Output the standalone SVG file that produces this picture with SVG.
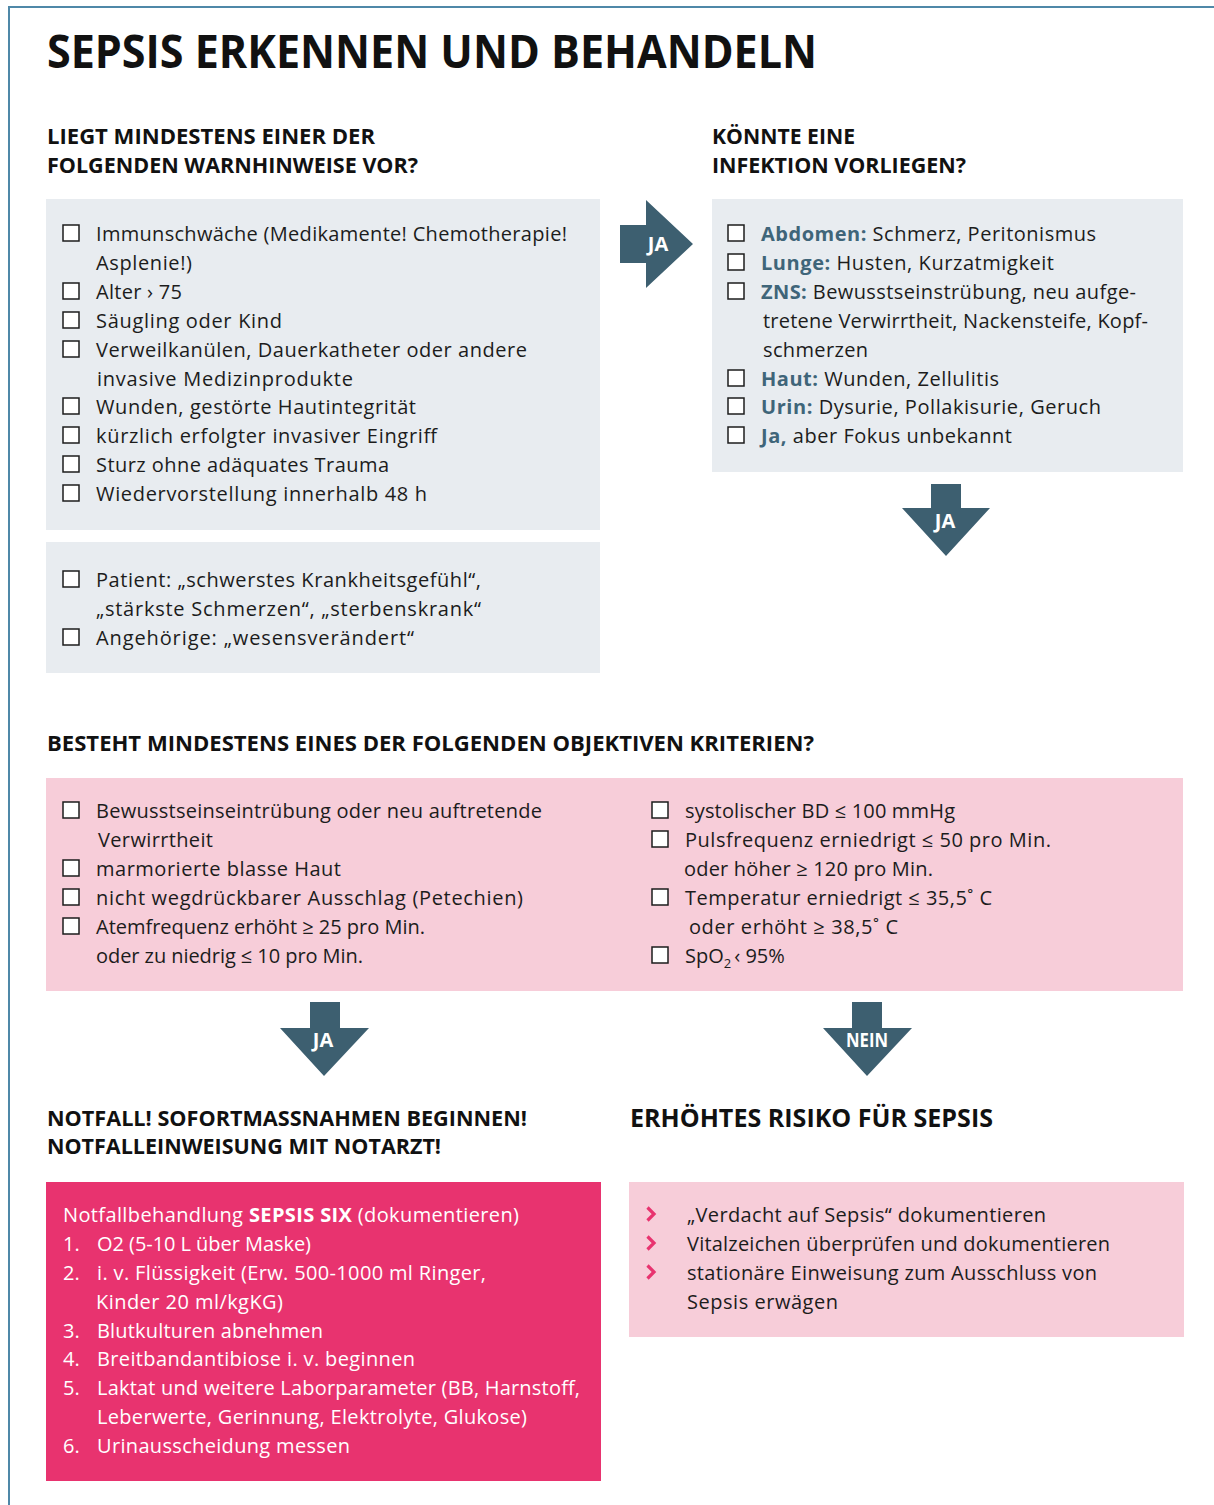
<svg xmlns="http://www.w3.org/2000/svg" width="1214" height="1505" viewBox="0 0 1214 1505">
<style>
  text { font-family: "Open Sans", "Noto Sans", "DejaVu Sans", sans-serif; }
  .t { font-size: 20px; fill: #1c1c1c; }
  .w { font-size: 20px; fill: #ffffff; }
  .h { font-size: 21px; font-weight: 700; fill: #111111; }
  .h2 { font-size: 25px; font-weight: 700; fill: #111111; }
  .title { font-size: 47px; font-weight: 700; fill: #111111; }
  .lbl { font-weight: 700; fill: #3f6579; }
  .b { font-weight: 700; }
  .cb { fill: #ffffff; stroke: #1c1c1c; stroke-width: 1.5; }
  .gray { fill: #e8ecf0; }
  .pink { fill: #f7cdd9; }
  .mag { fill: #e8336f; }
  .arrow { fill: #3d5f70; }
  .atext { font-size: 20px; font-weight: 700; fill: #ffffff; text-anchor: middle; }
  .chev { fill: none; stroke: #e8336f; stroke-width: 3.2; stroke-linejoin: miter; }
</style>
<defs>
  <rect id="cbox" class="cb" x="0" y="0" width="16" height="16"/>
</defs>
<rect x="0" y="0" width="1214" height="1505" fill="#ffffff"/>
<!-- frame -->
<g id="frame">
  <line x1="9" y1="7" x2="1214" y2="7" stroke="#4f88a8" stroke-width="2"/>
  <line x1="9" y1="6" x2="9" y2="1505" stroke="#4f88a8" stroke-width="2"/>
</g>
<g id="title">
  <text class="title" x="47" y="68" textLength="770" lengthAdjust="spacingAndGlyphs">SEPSIS ERKENNEN UND BEHANDELN</text>
</g>

<g id="headings">
  <text class="h" x="47" y="144" textLength="328" lengthAdjust="spacingAndGlyphs">LIEGT MINDESTENS EINER DER</text>
  <text class="h" x="47" y="173" textLength="371" lengthAdjust="spacingAndGlyphs">FOLGENDEN WARNHINWEISE VOR?</text>
  <text class="h" x="712" y="144" textLength="143" lengthAdjust="spacingAndGlyphs">KÖNNTE EINE</text>
  <text class="h" x="712" y="173" textLength="254" lengthAdjust="spacingAndGlyphs">INFEKTION VORLIEGEN?</text>
  <text class="h" x="47" y="751" textLength="767" lengthAdjust="spacingAndGlyphs">BESTEHT MINDESTENS EINES DER FOLGENDEN OBJEKTIVEN KRITERIEN?</text>
  <text class="h" x="47" y="1126" textLength="480" lengthAdjust="spacingAndGlyphs">NOTFALL! SOFORTMASSNAHMEN BEGINNEN!</text>
  <text class="h" x="47" y="1154" textLength="394" lengthAdjust="spacingAndGlyphs">NOTFALLEINWEISUNG MIT NOTARZT!</text>
  <text class="h2" x="630" y="1127" textLength="363" lengthAdjust="spacingAndGlyphs">ERHÖHTES RISIKO FÜR SEPSIS</text>
</g>

<!-- Warning signs -->
<g id="warnhinweise">
  <rect class="gray" x="46" y="199" width="554" height="331"/>
  <use href="#cbox" x="63" y="225"/>
  <use href="#cbox" x="63" y="283"/>
  <use href="#cbox" x="63" y="312"/>
  <use href="#cbox" x="63" y="341"/>
  <use href="#cbox" x="63" y="398"/>
  <use href="#cbox" x="63" y="427"/>
  <use href="#cbox" x="63" y="456"/>
  <use href="#cbox" x="63" y="485"/>
  <text class="t" x="96" y="241" textLength="471">Immunschwäche (Medikamente! Chemotherapie!</text>
  <text class="t" x="96" y="270" textLength="96">Asplenie!)</text>
  <text class="t" x="96" y="299" textLength="86">Alter › 75</text>
  <text class="t" x="96" y="328" textLength="186">Säugling oder Kind</text>
  <text class="t" x="96" y="357" textLength="431">Verweilkanülen, Dauerkatheter oder andere</text>
  <text class="t" x="97" y="386" textLength="256">invasive Medizinprodukte</text>
  <text class="t" x="96" y="414" textLength="320">Wunden, gestörte Hautintegrität</text>
  <text class="t" x="96" y="443" textLength="341">kürzlich erfolgter invasiver Eingriff</text>
  <text class="t" x="96" y="472" textLength="293">Sturz ohne adäquates Trauma</text>
  <text class="t" x="96" y="501" textLength="331">Wiedervorstellung innerhalb 48 h</text>
</g>

<g id="gefuehl">
  <rect class="gray" x="46" y="542" width="554" height="131"/>
  <use href="#cbox" x="63" y="571"/>
  <use href="#cbox" x="63" y="629"/>
  <text class="t" x="96" y="587" textLength="385">Patient: „schwerstes Krankheitsgefühl“,</text>
  <text class="t" x="96" y="616" textLength="385">„stärkste Schmerzen“, „sterbenskrank“</text>
  <text class="t" x="96" y="645" textLength="318">Angehörige: „wesensverändert“</text>
</g>

<g id="infektion">
  <rect class="gray" x="712" y="199" width="471" height="273"/>
  <use href="#cbox" x="728" y="225"/>
  <use href="#cbox" x="728" y="254"/>
  <use href="#cbox" x="728" y="283"/>
  <use href="#cbox" x="728" y="370"/>
  <use href="#cbox" x="728" y="398"/>
  <use href="#cbox" x="728" y="427"/>
  <text class="t" x="761" y="241" textLength="335"><tspan class="lbl">Abdomen:</tspan> Schmerz, Peritonismus</text>
  <text class="t" x="761" y="270" textLength="293"><tspan class="lbl">Lunge:</tspan> Husten, Kurzatmigkeit</text>
  <text class="t" x="761" y="299" textLength="375"><tspan class="lbl">ZNS:</tspan> Bewusstseinstrübung, neu aufge-</text>
  <text class="t" x="763" y="328" textLength="385">tretene Verwirrtheit, Nackensteife, Kopf-</text>
  <text class="t" x="763" y="357" textLength="105">schmerzen</text>
  <text class="t" x="761" y="386" textLength="238"><tspan class="lbl">Haut:</tspan> Wunden, Zellulitis</text>
  <text class="t" x="761" y="414" textLength="340"><tspan class="lbl">Urin:</tspan> Dysurie, Pollakisurie, Geruch</text>
  <text class="t" x="761" y="443" textLength="251"><tspan class="lbl">Ja,</tspan> aber Fokus unbekannt</text>
</g>

<g id="kriterien">
  <rect class="pink" x="46" y="778" width="1137" height="213"/>
  <use href="#cbox" x="63" y="802"/>
  <use href="#cbox" x="63" y="860"/>
  <use href="#cbox" x="63" y="889"/>
  <use href="#cbox" x="63" y="918"/>
  <text class="t" x="96" y="818" textLength="446">Bewusstseinseintrübung oder neu auftretende</text>
  <text class="t" x="98" y="847" textLength="115">Verwirrtheit</text>
  <text class="t" x="96" y="876" textLength="245">marmorierte blasse Haut</text>
  <text class="t" x="96" y="905" textLength="427">nicht wegdrückbarer Ausschlag (Petechien)</text>
  <text class="t" x="96" y="934" textLength="329">Atemfrequenz erhöht ≥ 25 pro Min.</text>
  <text class="t" x="96" y="963" textLength="267">oder zu niedrig ≤ 10 pro Min.</text>
  <use href="#cbox" x="652" y="802"/>
  <use href="#cbox" x="652" y="831"/>
  <use href="#cbox" x="652" y="889"/>
  <use href="#cbox" x="652" y="947"/>
  <text class="t" x="685" y="818" textLength="270">systolischer BD ≤ 100 mmHg</text>
  <text class="t" x="685" y="847" textLength="366">Pulsfrequenz erniedrigt ≤ 50 pro Min.</text>
  <text class="t" x="684" y="876" textLength="249">oder höher ≥ 120 pro Min.</text>
  <text class="t" x="685" y="905" textLength="307">Temperatur erniedrigt ≤ 35,5˚ C</text>
  <text class="t" x="689" y="934" textLength="209">oder erhöht ≥ 38,5˚ C</text>
  <text class="t" x="685" y="963">SpO<tspan font-size="13" dy="5">2</tspan><tspan dy="-5" dx="3">‹ 95%</tspan></text>
</g>

<g id="notfall">
  <rect class="mag" x="46" y="1182" width="555" height="299"/>
  <text class="w" x="63" y="1222" textLength="456">Notfallbehandlung <tspan class="b">SEPSIS SIX</tspan> (dokumentieren)</text>
  <text class="w" x="63" y="1251">1.</text>
  <text class="w" x="63" y="1280">2.</text>
  <text class="w" x="63" y="1338">3.</text>
  <text class="w" x="63" y="1366">4.</text>
  <text class="w" x="63" y="1395">5.</text>
  <text class="w" x="63" y="1453">6.</text>
  <text class="w" x="97" y="1251" textLength="214">O2 (5-10 L über Maske)</text>
  <text class="w" x="97" y="1280" textLength="389">i. v. Flüssigkeit (Erw. 500-1000 ml Ringer,</text>
  <text class="w" x="96" y="1309" textLength="187">Kinder 20 ml/kgKG)</text>
  <text class="w" x="97" y="1338" textLength="226">Blutkulturen abnehmen</text>
  <text class="w" x="97" y="1366" textLength="318">Breitbandantibiose i. v. beginnen</text>
  <text class="w" x="97" y="1395" textLength="483">Laktat und weitere Laborparameter (BB, Harnstoff,</text>
  <text class="w" x="97" y="1424" textLength="430">Leberwerte, Gerinnung, Elektrolyte, Glukose)</text>
  <text class="w" x="97" y="1453" textLength="253">Urinausscheidung messen</text>
</g>

<g id="risiko">
  <rect class="pink" x="629" y="1182" width="555" height="155"/>
  <path class="chev" d="M647.5,1207.5 L654,1214 L647.5,1220.5"/>
  <path class="chev" d="M647.5,1236.5 L654,1243 L647.5,1249.5"/>
  <path class="chev" d="M647.5,1265.5 L654,1272 L647.5,1278.5"/>
  <text class="t" x="687" y="1222" textLength="359">„Verdacht auf Sepsis“ dokumentieren</text>
  <text class="t" x="687" y="1251" textLength="423">Vitalzeichen überprüfen und dokumentieren</text>
  <text class="t" x="687" y="1280" textLength="410">stationäre Einweisung zum Ausschluss von</text>
  <text class="t" x="687" y="1309" textLength="151">Sepsis erwägen</text>
</g>

<g id="connectors">
  <g id="arrow-ja-1">
    <polygon class="arrow" points="620,225 646,225 646,200 693,244 646,288 646,263 620,263"/>
    <text class="atext" x="658" y="251">JA</text>
  </g>
  <g id="arrow-ja-2">
    <polygon class="arrow" points="931,484 961,484 961,508 990,508 946,556 902,508 931,508"/>
    <text class="atext" x="945" y="528">JA</text>
  </g>
  <g id="arrow-ja-3">
    <polygon class="arrow" points="310,1002 340,1002 340,1028 369,1028 324,1076 280,1028 310,1028"/>
    <text class="atext" x="323" y="1047">JA</text>
  </g>
  <g id="arrow-nein">
    <polygon class="arrow" points="852,1002 882,1002 882,1028 912,1028 867,1076 823,1028 852,1028"/>
    <text class="atext" x="867" y="1047" textLength="42" lengthAdjust="spacingAndGlyphs">NEIN</text>
  </g>
</g>
</svg>
